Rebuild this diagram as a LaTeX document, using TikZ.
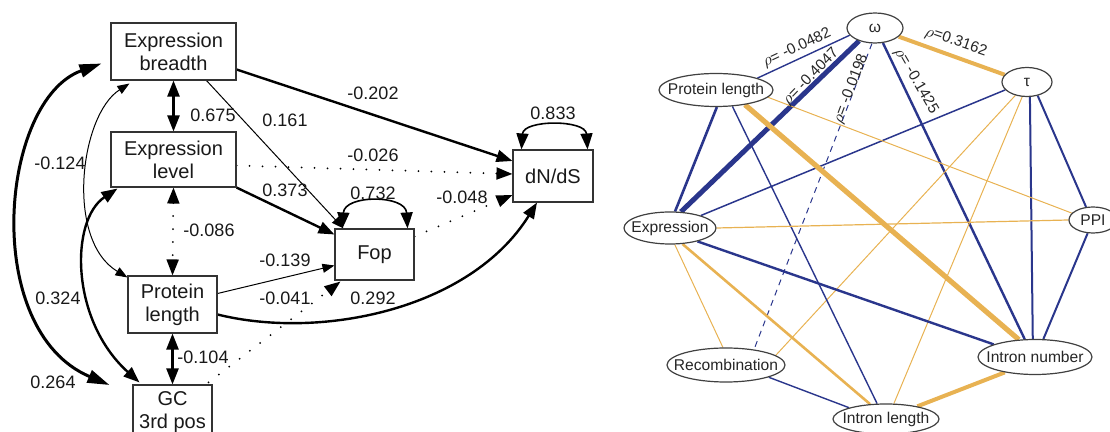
\documentclass[tikz,border=0pt]{standalone}
\usepackage{fontspec}
\setmainfont{Liberation Sans}
\usetikzlibrary{arrows.meta,calc,shapes.geometric,backgrounds}
\definecolor{edgeblue}{RGB}{42,54,140}
\definecolor{edgegold}{RGB}{232,178,82}

\begin{document}
\begin{tikzpicture}[x=0.5pt,y=-0.5pt,
  boxnode/.style={draw=black!80, line width=0.55pt, fill=white, align=center,
    inner sep=0pt, text=black!90, font=\fontsize{10}{11.5}\selectfont},
  coef/.style={inner sep=0pt, font=\fontsize{9}{10}\selectfont, text=black!90},
  heavyln/.style={line width=1.5pt},
  thickln/.style={line width=1.2pt},
  loopln/.style={line width=0.8pt},
  thinln/.style={line width=0.5pt},
  dotln/.style={line width=1pt, line cap=round, dash pattern=on 0pt off 6.5pt},
  tipone/.style={-{Triangle[length=8pt,width=6pt]}},
  tiptwo/.style={{Triangle[length=8pt,width=6pt]}-{Triangle[length=8pt,width=6pt]}},
  tipsmall/.style={-{Triangle[length=6pt,width=4.5pt]}},
  tipsmalltwo/.style={{Triangle[length=6pt,width=4.5pt]}-{Triangle[length=6pt,width=4.5pt]}},
  tipbigtwo/.style={{Triangle[length=11pt,width=6.5pt]}-{Triangle[length=11pt,width=6.5pt]}},
  ellnode/.style={ellipse, draw=black!75, line width=0.6pt, fill=white, inner sep=0pt,
    font=\fontsize{7.8}{9}\selectfont, text=black!85},
  rholab/.style={inner sep=0pt, font=\fontsize{7.6}{9}\selectfont, text=black!85},
  blueedge/.style={draw=edgeblue},
  goldedge/.style={draw=edgegold}
]
\useasboundingbox (0,0) rectangle (1110,432);

% ---------------- path model (left) ----------------
\node[boxnode, minimum width=62.5pt, minimum height=28.5pt] (breadth) at (173.5,51.5) {Expression\\breadth};
\node[boxnode, minimum width=62.5pt, minimum height=27.5pt] (level) at (173.5,159.5) {Expression\\level};
\node[boxnode, minimum width=44.5pt, minimum height=28.5pt] (plen) at (172.5,304.5) {Protein\\length};
\node[boxnode, minimum width=39.5pt, minimum height=27pt] (gc) at (172.5,412) {GC\\3rd pos};
\node[boxnode, minimum width=39.5pt, minimum height=25.5pt] (fop) at (374.5,254.5) {Fop};
\node[boxnode, minimum width=40pt, minimum height=26pt] (dnds) at (553,176) {dN/dS};

\begin{pgfonlayer}{background}
  % direct effects and covariances
  \draw[thickln, tiptwo] (breadth.south) -- (level.north);
  \draw[thickln, tipone] ($(breadth.east)+(0,18)$) -- ($(dnds.west)+(0,-15)$);
  \draw[thinln, tipsmall] ($(breadth.south)+(33,0)$) -- ($(fop.north west)+(9,0)$);
  \draw[dotln, tipone] ($(level.east)+(0,6)$) -- ($(dnds.west)+(0,-2)$);
  \draw[thickln, tipone] (level.south east) -- ($(fop.west)+(0,-20)$);
  \draw[dotln, tipone] ($(fop.east)+(0,-18)$) -- ($(dnds.west)+(0,19)$);
  \draw[dotln, tiptwo] (level.south) -- (plen.north);
  \draw[thinln, tipsmall] ($(plen.east)+(0,-11)$) -- ($(fop.west)+(0,11)$);
  \draw[thickln, tipone] ($(plen.east)+(0,10)$) .. controls (320,340) and (470,310) .. ($(dnds.south)+(-16,0)$);
  \draw[dotln, tipone] ($(gc.north east)+(-4,-2)$) -- ($(fop.south west)+(6,1)$);
  \draw[thickln, tiptwo] (plen.south) -- (gc.north);
  % residual loops
  \draw[loopln, tiptwo] ($(fop.north west)+(8,0)$) .. controls +(2,-34) and +(-2,-34) .. ($(fop.north east)+(-7,0)$);
  \draw[loopln, tiptwo] ($(dnds.north west)+(9,0)$) .. controls +(2,-30) and +(-2,-30) .. ($(dnds.north east)+(-6,0)$);
  % long covariance arcs on the left
  \draw[heavyln, tipbigtwo] ($(breadth.west)+(-9,12)$) .. controls (0,100) and (-20,330) .. ($(gc.west)+(-23,-27)$);
  \draw[thinln, tipsmalltwo] ($(breadth.south west)+(19,3)$) .. controls (80,115) and (65,240) .. ($(plen.north west)+(0,2)$);
  \draw[thickln, tiptwo] ($(level.south west)+(7,1)$) .. controls (70,220) and (70,320) .. ($(gc.north west)+(7,-2)$);
\end{pgfonlayer}

% coefficients
\node[coef] (c1) at (213,115) {0.675};
\node[coef] (c2) at (373,93) {-0.202};
\node[coef] (c3) at (285,120) {0.161};
\node[coef] (c4) at (373,155) {-0.026};
\node[coef] (c5) at (285,190) {0.373};
\node[coef] (c6) at (373,193) {0.732};
\node[coef] (c7) at (462,197) {-0.048};
\node[coef] (c8) at (553,113) {0.833};
\node[coef] (c9) at (209,230) {-0.086};
\node[coef] (c10) at (285,260) {-0.139};
\node[coef] (c11) at (285,298) {-0.041};
\node[coef] (c12) at (373,298) {0.292};
\node[coef] (c13) at (203,357) {-0.104};
\node[coef] (c14) at (60,163) {-0.124};
\node[coef] (c15) at (58,298) {0.324};
\node[coef] (c16) at (53,382) {0.264};

% ---------------- correlation network (right) ----------------
\node[ellnode, minimum width=28pt, minimum height=15pt] (omega) at (875,28) {\makebox[0pt]{ω}};
\node[ellnode, minimum width=25pt, minimum height=14.5pt] (tau) at (1027,82) {\makebox[0pt]{τ}};
\node[ellnode, minimum width=57pt, minimum height=16.5pt] (pl) at (716,90) {\makebox[0pt]{Protein length}};
\node[ellnode, minimum width=46pt, minimum height=16pt] (expr) at (670,228) {\makebox[0pt]{Expression}};
\node[ellnode, minimum width=24pt, minimum height=13pt] (ppi) at (1093,220) {\makebox[0pt]{PPI}};
\node[ellnode, minimum width=59pt, minimum height=17pt] (recomb) at (726,365) {\makebox[0pt]{Recombination}};
\node[ellnode, minimum width=57pt, minimum height=17.5pt] (inum) at (1035,357) {\makebox[0pt]{Intron number}};
\node[ellnode, minimum width=53pt, minimum height=15pt] (ilen) at (886,419) {\makebox[0pt]{Intron length}};

\begin{pgfonlayer}{background}
  \draw[blueedge, line width=0.7pt] (omega.196) -- (pl.16);
  \draw[blueedge, line width=2.5pt] (omega.219) -- (expr.56);
  \draw[blueedge, line width=0.5pt, dash pattern=on 3pt off 2.5pt] (omega.259) -- (recomb.29);
  \draw[blueedge, line width=1.2pt] (omega.298) -- (inum.120);
  \draw[goldedge, line width=2pt] (omega.340) -- (tau.162);
  \draw[blueedge, line width=0.75pt] (tau.200) -- (expr.22);
  \draw[goldedge, line width=0.5pt] (tau.229) -- (recomb.11);
  \draw[goldedge, line width=0.5pt] (tau.252) -- (ilen.63);
  \draw[blueedge, line width=1pt] (tau.281) -- (inum.97);
  \draw[blueedge, line width=1pt] (tau.308) -- (ppi.118);
  \draw[blueedge, line width=1.3pt] (pl.273) -- (expr.73);
  \draw[blueedge, line width=0.7pt] (pl.315) -- (ilen.120);
  \draw[goldedge, line width=2.6pt] (pl.333) -- (inum.133);
  \draw[goldedge, line width=0.5pt] (pl.352) -- (ppi.162);
  \draw[goldedge, line width=0.6pt] (expr.east) -- (ppi.west);
  \draw[blueedge, line width=1.2pt] (expr.334) -- (inum.163);
  \draw[goldedge, line width=1.3pt] (expr.308) -- (ilen.137);
  \draw[goldedge, line width=0.5pt] (expr.286) -- (recomb.100);
  \draw[blueedge, line width=0.7pt] (recomb.344) -- (ilen.163);
  \draw[goldedge, line width=2pt] (ilen.22) -- (inum.207);
  \draw[blueedge, line width=1pt] (inum.65) -- (ppi.248);
\end{pgfonlayer}

% correlation labels
\node[rholab, rotate=25] (r1) at (797,48) {\(\rho\)= -0.0482};
\node[rholab, rotate=46] (r2) at (811,77) {\(\rho\)= -0.4047};
\node[rholab, rotate=69] (r3) at (851,89) {\(\rho\)= -0.0198};
\node[rholab, rotate=-60] (r4) at (916,81) {\(\rho\)= -0.1425};
\node[rholab, rotate=-19] (r5) at (956,42) {\(\rho\)=0.3162};
\end{tikzpicture}
\end{document}
